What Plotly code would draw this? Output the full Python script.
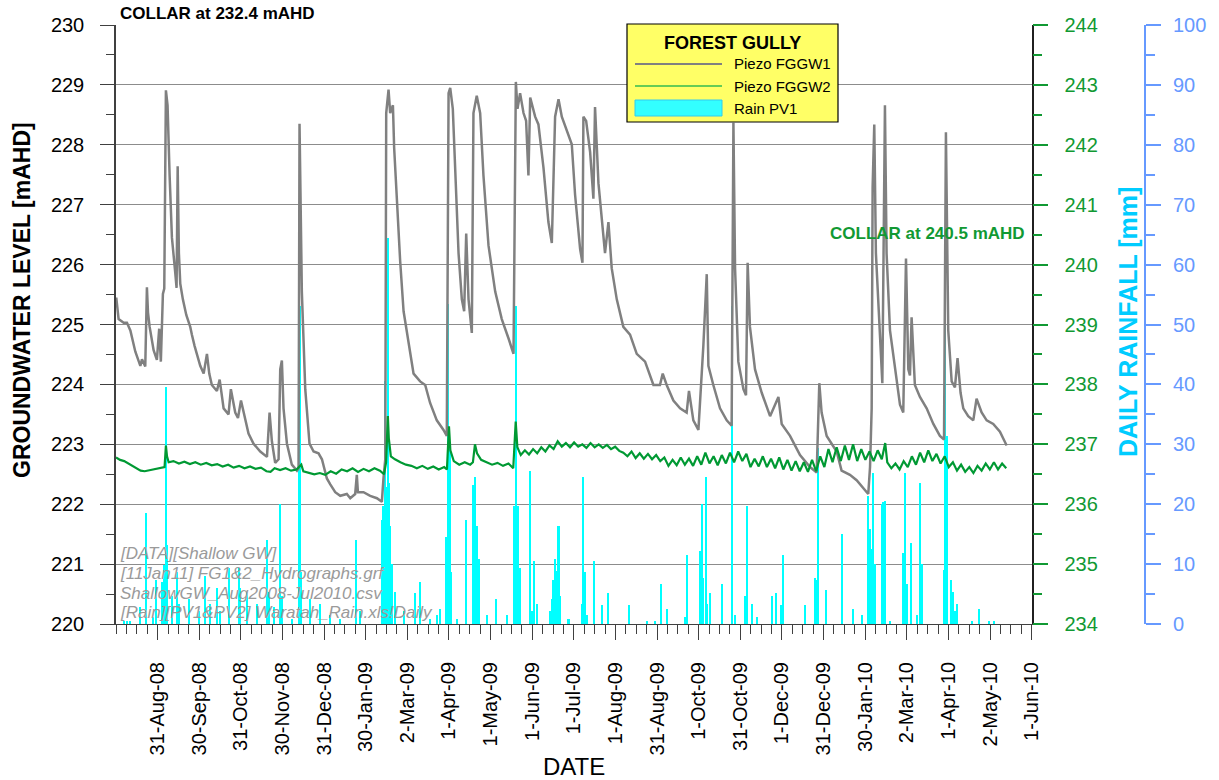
import pandas as pd
import plotly.graph_objects as go

START = pd.Timestamp("2008-08-01")

# ---- Piezo FGGW1 (left axis, mAHD) : days since 1-Aug-2008, level ----
GW1_DAY = [0.2, 1.9, 5.6, 8.0, 10.5, 14.1, 17.8, 19.0, 21.4, 22.6, 23.4, 24.6, 27.5, 29.9, 31.6, 32.8,
           34.3, 35.3, 36.5, 37.7, 39.2, 40.9, 43.3, 44.3, 45.1, 46.0, 47.0, 48.9, 51.4, 54.3, 55.5, 57.5,
           61.6, 64.1, 66.5, 68.2, 70.1, 73.8, 75.8, 78.7, 82.3, 84.0, 87.2, 89.2, 91.4, 94.5, 96.9, 100.6,
           105.5, 110.4, 112.3, 114.0, 116.4, 118.9, 120.1, 121.3, 122.5, 125.0, 128.6, 132.3, 133.5, 134.2,
           135.9, 138.4, 141.5, 144.5, 148.1, 150.6, 154.2, 156.7, 160.3, 164.0, 168.8, 171.3, 174.9, 176.1,
           176.9, 181.0, 185.9, 190.8, 194.4, 195.6, 196.9, 197.6, 199.3, 200.5, 202.5, 203.4, 205.4, 207.8,
           210.3, 213.9, 217.6, 222.4, 226.1, 229.7, 234.6, 239.5, 241.9, 243.2, 244.4, 246.3, 248.0, 250.5,
           252.9, 254.6, 256.1, 257.8, 260.2, 261.4, 263.8, 266.3, 268.7, 272.4, 277.3, 282.1, 287.0, 290.7,
           292.4, 293.6, 295.5, 298.0, 299.9, 301.6, 302.9, 306.5, 308.9, 312.6, 316.2, 318.7, 321.1, 323.6,
           326.0, 329.9, 333.3, 335.7, 339.4, 341.1, 341.8, 343.8, 346.7, 349.1, 350.3, 352.8, 355.2, 357.6,
           360.1, 362.5, 366.2, 371.0, 375.9, 380.8, 386.9, 393.0, 397.8, 399.8, 402.7, 407.6, 412.5, 417.3,
           419.0, 422.2, 425.9, 429.5, 432.0, 433.2, 436.8, 441.7, 446.6, 450.2, 451.5, 452.7, 455.1, 458.8,
           460.7, 461.9, 463.6, 467.3, 472.2, 478.3, 484.4, 486.8, 492.9, 500.2, 507.5, 512.4, 514.3, 516.0,
           519.7, 527.0, 530.6, 536.7, 541.6, 546.5, 550.1, 551.4, 552.6, 553.3, 554.5, 555.7, 558.7, 560.4,
           562.3, 563.5, 566.0, 569.6, 573.3, 575.7, 577.7, 579.4, 580.6, 581.8, 584.2, 587.9, 592.8, 597.7,
           602.5, 605.5, 606.9, 608.6, 611.1, 613.5, 615.4, 617.6, 619.6, 623.2, 626.9, 629.3, 633.0, 636.7,
           641.5, 646.4, 651.3]
GW1_LEVEL = [225.45, 225.09, 225.03, 225.03, 224.90, 224.55, 224.31, 224.42, 224.30, 225.62, 225.20, 224.96,
             224.57, 224.41, 224.93, 224.38, 225.51, 225.60, 228.91, 228.66, 227.49, 226.45, 225.87, 225.61,
             227.64, 226.19, 225.68, 225.42, 225.16, 224.96, 224.83, 224.64, 224.31, 224.18, 224.51, 224.18,
             223.99, 223.89, 224.08, 223.60, 223.50, 223.92, 223.53, 223.44, 223.73, 223.40, 223.18, 223.01,
             222.88, 222.79, 223.53, 223.05, 222.69, 222.75, 224.25, 224.40, 223.60, 223.01, 222.66, 222.56,
             222.60, 228.35, 225.55, 223.92, 223.01, 222.88, 222.85, 222.75, 222.43, 222.33, 222.20, 222.14,
             222.17, 222.10, 222.17, 222.49, 222.20, 222.20, 222.14, 222.10, 222.04, 222.43, 222.75, 228.53,
             228.92, 228.53, 228.66, 227.95, 226.97, 226.06, 225.22, 224.69, 224.18, 224.05, 223.99, 223.69,
             223.40, 223.24, 223.14, 228.86, 228.95, 228.60, 227.49, 226.19, 225.42, 225.22, 226.52, 225.42,
             224.86, 228.53, 228.82, 228.53, 227.49, 226.32, 225.55, 225.09, 224.77, 224.51, 229.05, 228.60,
             228.86, 228.53, 228.40, 227.49, 228.79, 228.47, 228.34, 227.62, 226.71, 226.36, 228.47, 228.76,
             228.47, 228.24, 228.01, 227.17, 226.26, 226.03, 228.47, 228.40, 227.88, 227.10, 228.63, 227.36,
             226.78, 226.19, 226.71, 225.94, 225.42, 224.96, 224.83, 224.51, 224.38, 223.99, 223.99, 224.18,
             223.99, 223.73, 223.60, 223.53, 223.89, 223.40, 223.24, 224.64, 225.84, 224.31, 223.99, 223.60,
             223.40, 223.31, 228.37, 225.94, 224.38, 223.92, 223.82, 226.03, 224.96, 224.25, 223.86, 223.47,
             223.79, 223.34, 223.14, 222.82, 222.62, 222.53, 224.02, 223.53, 223.14, 222.88, 222.56, 222.49,
             222.40, 222.27, 222.17, 222.62, 223.60, 227.30, 228.34, 226.19, 224.90, 224.02, 228.66, 226.19,
             224.90, 224.25, 223.66, 223.53, 226.10, 224.25, 224.15, 225.12, 223.99, 223.79, 223.60, 223.34,
             223.14, 223.08, 228.21, 224.90, 224.05, 223.95, 224.44, 223.86, 223.60, 223.47, 223.40, 223.76,
             223.53, 223.40, 223.34, 223.21, 222.98]

# ---- Piezo FGGW2 (right green axis, mAHD) ----
GW2_DAY = [0, 3, 6, 9, 12, 15, 18, 21, 25, 29, 33, 35.5, 36.5, 37.3, 38.5, 42, 46, 50, 54, 58, 62, 66, 70, 74,
           78, 82, 86, 90, 94, 98, 102, 106, 110, 113, 116, 120, 124, 128, 132, 135.5, 137, 141, 145, 149,
           153, 157, 161, 165, 169, 173, 177, 181, 185, 189, 193, 196, 197.5, 198.8, 199.5, 201, 204, 208,
           212, 216, 220, 224, 228, 232, 236, 240, 242, 243.5, 244.5, 247, 251, 255, 259, 261, 262.5, 264,
           267, 271, 275, 279, 283, 287, 290.5, 292.3, 293.5, 296, 299, 302, 305, 308, 311, 314, 317, 320,
           323, 326, 329, 332, 335, 338, 341, 344, 347, 350, 353, 356, 359, 362, 365, 368, 371, 374, 377,
           380, 383, 386, 389, 392, 395, 398, 401, 404, 407, 410, 413, 416, 419, 422, 425, 428, 431, 434,
           437, 440, 443, 446, 449, 452, 455, 458, 461, 464, 467, 470, 473, 476, 479, 482, 485, 488, 491,
           494, 497, 500, 503, 506, 509, 512, 515, 518, 521, 524, 527, 530, 533, 536, 539, 542, 545, 548,
           551, 554, 557, 560, 562.5, 564, 567, 570, 573, 576, 579, 582, 585, 588, 591, 594, 597, 600, 603,
           606, 609, 612, 615, 618, 621, 624, 627, 630, 633, 636, 639, 642, 645, 648, 651]
GW2_LEVEL = [236.78, 236.74, 236.72, 236.68, 236.64, 236.60, 236.56, 236.55, 236.57, 236.58, 236.60, 236.62,
             236.98, 236.80, 236.70, 236.72, 236.68, 236.71, 236.67, 236.70, 236.66, 236.69, 236.65, 236.67,
             236.63, 236.66, 236.61, 236.64, 236.60, 236.63, 236.59, 236.61, 236.55, 236.54, 236.60, 236.57,
             236.60, 236.56, 236.58, 236.66, 236.55, 236.53, 236.50, 236.52, 236.49, 236.55, 236.51, 236.58,
             236.55, 236.60, 236.54, 236.59, 236.55, 236.60, 236.56, 236.50, 236.70, 237.47, 237.10, 236.80,
             236.75, 236.70, 236.66, 236.64, 236.60, 236.64, 236.59, 236.63, 236.58, 236.62, 236.58, 237.30,
             236.90, 236.72, 236.66, 236.70, 236.66, 236.70, 237.00, 236.85, 236.74, 236.70, 236.66, 236.69,
             236.64, 236.68, 236.60, 237.38, 236.95, 236.82, 236.90, 236.83, 236.92, 236.85, 236.95, 236.88,
             236.98, 236.92, 237.05, 236.96, 237.02, 236.95, 237.03, 236.96, 237.00, 236.94, 237.02, 236.95,
             237.00, 236.94, 236.99, 236.92, 236.96, 236.89, 236.86, 236.80, 236.88, 236.77, 236.85, 236.76,
             236.84, 236.75, 236.82, 236.72, 236.78, 236.64, 236.74, 236.65, 236.78, 236.66, 236.76, 236.64,
             236.80, 236.66, 236.86, 236.68, 236.80, 236.65, 236.82, 236.68, 236.86, 236.70, 236.88, 236.72,
             236.84, 236.62, 236.76, 236.63, 236.80, 236.62, 236.76, 236.60, 236.78, 236.58, 236.74, 236.56,
             236.72, 236.55, 236.70, 236.54, 236.74, 236.55, 236.80, 236.62, 236.92, 236.70, 236.95, 236.72,
             236.98, 236.74, 237.00, 236.72, 236.92, 236.74, 236.88, 236.72, 236.90, 236.75, 237.02, 236.70,
             236.60, 236.68, 236.58, 236.72, 236.62, 236.80, 236.66, 236.86, 236.70, 236.90, 236.72, 236.84,
             236.68, 236.80, 236.62, 236.70, 236.56, 236.66, 236.54, 236.62, 236.52, 236.64, 236.56, 236.68,
             236.58, 236.70, 236.58, 236.68, 236.60]

# ---- Rain PV1 (daily rainfall, mm) ----
RAIN_DAY = [5.6, 8.0, 10.5, 17.8, 22.1, 27.0, 29.5, 33.6, 34.8, 36.3, 37.3, 40.9, 44.6, 45.8, 53.1, 60.4,
            65.3, 68.9, 73.8, 76.2, 82.3, 89.6, 90.9, 95.7, 103.0, 110.4, 111.6, 115.2, 120.1, 121.3, 128.6,
            134.2, 135.2, 142.0, 149.3, 156.7, 164.0, 175.7, 178.6, 194.4, 195.6, 196.9, 197.6, 198.6, 199.5,
            200.5, 201.7, 204.2, 210.3, 218.8, 222.4, 229.7, 234.6, 237.0, 241.5, 242.7, 243.9, 244.9, 249.2,
            256.1, 261.4, 262.6, 263.9, 265.1, 271.2, 278.0, 285.8, 291.4, 292.4, 293.6, 295.1, 302.4, 304.1,
            306.0, 307.7, 317.5, 318.7, 319.9, 321.1, 322.3, 323.6, 324.8, 330.9, 340.6, 341.8, 343.0, 344.2,
            349.6, 355.2, 359.6, 375.4, 388.1, 394.2, 398.3, 402.7, 416.1, 417.3, 427.1, 428.3, 429.5, 431.5,
            432.5, 434.4, 443.0, 450.7, 452.7, 460.0, 461.2, 464.9, 468.5, 479.5, 482.6, 486.1, 487.5, 503.8,
            511.2, 512.4, 513.6, 519.2, 530.6, 539.2, 545.3, 550.1, 551.4, 552.6, 553.8, 555.0, 559.9, 561.1,
            562.3, 566.0, 575.7, 577.2, 578.2, 581.1, 585.5, 587.9, 589.1, 605.5, 606.4, 607.4, 610.3, 611.8,
            613.5, 615.2, 625.7, 631.3, 638.6, 642.0]
RAIN_MM = [0.5, 0.5, 0.5, 2.8, 18.5, 1.2, 7.3, 7.0, 9.9, 39.5, 13.2, 4.7, 8.6, 3.4, 4.1, 2.1,
           8.0, 3.4, 6.0, 2.1, 9.3, 9.3, 6.0, 5.4, 3.4, 14.0, 5.4, 2.8, 20.0, 4.7, 0.8,
           53.1, 8.6, 4.1, 3.4, 1.5, 0.8, 14.0, 2.1, 17.4, 19.7, 40.5, 22.9, 64.5, 23.6,
           16.4, 10.0, 5.4, 2.1, 5.1, 7.0, 0.8, 1.5, 2.5, 14.5, 53.4, 29.4, 8.6, 0.8,
           17.4, 23.2, 24.5, 16.4, 10.9, 1.5, 4.1, 1.5, 19.7, 53.1, 19.7, 9.3, 25.5, 2.1,
           10.6, 3.4, 2.1, 4.1, 7.3, 10.9, 8.9, 16.4, 4.7, 0.8, 3.4, 24.5, 8.6, 1.5,
           10.6, 3.1, 5.1, 3.1, 0.5, 0.5, 6.7, 2.5, 1.2, 11.6, 12.2, 20.0, 7.7, 24.5,
           3.4, 5.1, 6.7, 53.1, 1.5, 4.7, 19.7, 3.4, 1.2, 4.7, 5.1, 3.1, 11.6, 3.1,
           7.7, 7.3, 29.4, 5.7, 15.1, 2.5, 1.5, 21.3, 15.8, 12.5, 25.2, 10.0, 20.0, 20.3,
           20.6, 0.5, 11.9, 25.2, 6.7, 13.5, 1.5, 23.6, 10.0, 9.0, 58.6, 31.4, 7.3, 5.4,
           2.1, 3.4, 0.5, 2.5, 0.5, 0.5]

# ---- x tick labels (Grapher date ticks every 30.4375 days from 1-Aug-2008) ----
X_TICK_LABELS = ["31-Aug-08", "30-Sep-08", "31-Oct-08", "30-Nov-08", "31-Dec-08", "30-Jan-09",
                 "2-Mar-09", "1-Apr-09", "1-May-09", "1-Jun-09", "1-Jul-09", "1-Aug-09", "31-Aug-09",
                 "1-Oct-09", "31-Oct-09", "1-Dec-09", "31-Dec-09", "30-Jan-10", "2-Mar-10", "1-Apr-10",
                 "2-May-10", "1-Jun-10"]
TICK_STEP_DAYS = 30.4375


def to_dates(days):
    return [START + pd.Timedelta(days=d) for d in days]


tickvals = [START + pd.Timedelta(days=TICK_STEP_DAYS * (k + 1)) for k in range(len(X_TICK_LABELS))]
minor_vals = [START + pd.Timedelta(days=TICK_STEP_DAYS * k / 4) for k in range(0, 4 * (len(X_TICK_LABELS) + 1) + 1)]
x_end = START + pd.Timedelta(days=TICK_STEP_DAYS * len(X_TICK_LABELS))

FONT = "Liberation Sans, Arial, sans-serif"
GREEN = "#119933"
BLUE = "#6699ff"

fig = go.Figure()
fig.add_trace(go.Bar(x=to_dates(RAIN_DAY), y=RAIN_MM, yaxis="y", name="Rain PV1",
                     marker=dict(color="#00ffff", line=dict(width=0)),
                     width=1.5 * 86400000, showlegend=False))
fig.add_trace(go.Scatter(x=to_dates(GW1_DAY), y=GW1_LEVEL, yaxis="y2", mode="lines", name="Piezo FGGW1",
                         line=dict(color="#808080", width=2.5), showlegend=False))
fig.add_trace(go.Scatter(x=to_dates(GW2_DAY), y=GW2_LEVEL, yaxis="y3", mode="lines", name="Piezo FGGW2",
                         line=dict(color="#009933", width=2.2), showlegend=False))

W, H = 1219, 780
ML, MR, MT, MB = 116, 10, 25, 156
PW = W - ML - MR
PH = H - MT - MB
X_RIGHT = 1031.7


def px(x):
    return (x - ML) / PW


def py(y):
    return (H - MB - y) / PH


fig.update_layout(
    width=W, height=H, margin=dict(l=ML, r=MR, t=MT, b=MB, autoexpand=False),
    paper_bgcolor="white", plot_bgcolor="white",
    font=dict(family=FONT, size=20, color="black"),
    bargap=0, showlegend=False,
    xaxis=dict(domain=[0, px(X_RIGHT)], type="date", range=[START, x_end], anchor="y", automargin=False,
               tickmode="array", tickvals=tickvals, ticktext=X_TICK_LABELS, tickangle=-90,
               ticks="outside", ticklen=15, tickcolor="#404040", tickwidth=1,
               showline=True, linecolor="#404040", linewidth=1, showgrid=False, zeroline=False,
               tickfont=dict(size=20, color="black"), ticklabelstandoff=14,
               minor=dict(tickmode="array", tickvals=minor_vals, ticks="outside", ticklen=9,
                          tickcolor="#404040", showgrid=False)),
    yaxis=dict(range=[0, 100], anchor="free", position=px(1145), side="right", automargin=False,
               showline=True, linecolor=BLUE, linewidth=2, ticks="outside", ticklen=15,
               tickcolor=BLUE, tickwidth=2, dtick=10, tickfont=dict(size=20, color=BLUE),
               ticklabelstandoff=8,
               minor=dict(dtick=5, ticks="outside", ticklen=9, tickcolor=BLUE, tickwidth=2),
               showgrid=False, zeroline=False),
    yaxis2=dict(range=[220, 230], overlaying="y", side="left", anchor="x", dtick=1, automargin=False,
                showgrid=True, gridcolor="#8c8c8c", gridwidth=1, showline=True,
                linecolor="#404040", linewidth=1.5, ticks="outside", ticklen=14, tickcolor="#404040",
                tickfont=dict(size=20, color="black"), ticklabelstandoff=12,
                minor=dict(dtick=0.5, ticks="outside", ticklen=8, tickcolor="#404040"),
                zeroline=False),
    yaxis3=dict(range=[234, 244], overlaying="y", side="right", anchor="x", dtick=1, automargin=False,
                showgrid=False, showline=True, linecolor="#202020", linewidth=1.5,
                ticks="outside", ticklen=15, tickcolor=GREEN, tickwidth=1.5,
                tickfont=dict(size=20, color=GREEN), ticklabelstandoff=12,
                minor=dict(dtick=0.5, ticks="outside", ticklen=9, tickcolor=GREEN, tickwidth=1.5),
                zeroline=False),
)

ann = []
ann.append(dict(text="<b>COLLAR at 232.4 mAHD</b>", x=px(118), y=py(13), xref="paper", yref="paper",
                xanchor="left", yanchor="middle", showarrow=False, font=dict(size=17, color="black")))
ann.append(dict(text="<b>COLLAR at 240.5 mAHD</b>", x=px(828), y=py(233), xref="paper", yref="paper",
                xanchor="left", yanchor="middle", showarrow=False, font=dict(size=17, color=GREEN)))
for txt, yy in [("[DATA][Shallow GW]", 553), ("[11Jan11] FG1&amp;2_Hydrographs.grf", 573),
                ("ShallowGW_Aug2008-Jul2010.csv", 593), ("[Rain][PV1&amp;PV2] Waratah_Rain.xls!Daily", 612)]:
    ann.append(dict(text="<i>" + txt + "</i>", x=px(118), y=py(yy), xref="paper", yref="paper",
                    xanchor="left", yanchor="middle", showarrow=False, font=dict(size=17, color="#9a9a9a")))
ann.append(dict(text="<b>GROUNDWATER LEVEL [mAHD]</b>", x=px(22), y=py(300), xref="paper", yref="paper",
                xanchor="center", yanchor="middle", textangle=-90, showarrow=False,
                font=dict(size=23, color="black")))
ann.append(dict(text="<b>DAILY RAINFALL [mm]</b>", x=px(1128), y=py(322), xref="paper", yref="paper",
                xanchor="center", yanchor="middle", textangle=-90, showarrow=False,
                font=dict(size=25, color="#00ccff")))
ann.append(dict(text="DATE", x=px(574), y=py(766), xref="paper", yref="paper",
                xanchor="center", yanchor="middle", showarrow=False, font=dict(size=24, color="black")))

# legend box drawn manually
ann.append(dict(text="<b>FOREST GULLY</b>", x=px(732), y=py(43), xref="paper", yref="paper",
                xanchor="center", yanchor="middle", showarrow=False, font=dict(size=18, color="black")))
for txt, yy in [("Piezo FGGW1", 64), ("Piezo FGGW2", 86), ("Rain PV1", 108)]:
    ann.append(dict(text=txt, x=px(732), y=py(yy), xref="paper", yref="paper",
                    xanchor="left", yanchor="middle", showarrow=False, font=dict(size=15, color="black")))

shapes = [
    dict(type="rect", xref="paper", yref="paper", x0=px(627), x1=px(838), y0=py(122), y1=py(24),
         fillcolor="#ffff66", line=dict(color="black", width=1.2)),
    dict(type="line", xref="paper", yref="paper", x0=px(635), x1=px(722), y0=py(64), y1=py(64),
         line=dict(color="#808080", width=2)),
    dict(type="line", xref="paper", yref="paper", x0=px(635), x1=px(722), y0=py(86), y1=py(86),
         line=dict(color="#66cc55", width=2)),
    dict(type="rect", xref="paper", yref="paper", x0=px(635), x1=px(722), y0=py(116), y1=py(100),
         fillcolor="#33ffff", line=dict(color="#33ccee", width=1)),
]
fig.update_layout(annotations=ann, shapes=shapes)

fig.write_html("out.html", config={"displayModeBar": False},
               post_script="document.body.style.margin='0';document.body.style.padding='0';")
